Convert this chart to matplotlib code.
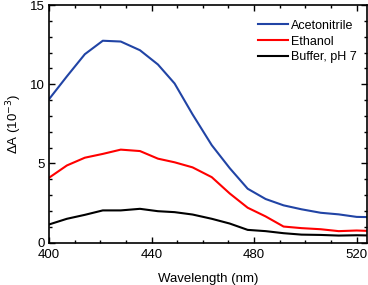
import matplotlib
matplotlib.use("Agg")
import matplotlib.pyplot as plt
from matplotlib.ticker import MultipleLocator

plt.rcParams['font.family'] = ['Liberation Sans', 'DejaVu Sans']

wavelength = [400, 407, 414, 421, 428, 435.5, 442.5, 449, 456, 463.5, 470.5,
              477.5, 484.5, 491.5, 498.5, 506, 513, 520, 527]
acetonitrile = [9.05, 10.5, 11.9, 12.75, 12.7, 12.15, 11.25, 10.05, 8.1, 6.15, 4.7,
                3.4, 2.75, 2.35, 2.1, 1.88, 1.78, 1.62, 1.6]
ethanol = [4.09, 4.87, 5.36, 5.6, 5.87, 5.78, 5.3, 5.07, 4.75, 4.13, 3.1,
           2.2, 1.65, 1.01, 0.91, 0.84, 0.72, 0.76, 0.72]
buffer = [1.14, 1.5, 1.75, 2.03, 2.03, 2.13, 1.98, 1.92, 1.77, 1.5, 1.2,
          0.8, 0.72, 0.59, 0.5, 0.48, 0.44, 0.46, 0.44]

labels = ['Acetonitrile', 'Ethanol', 'Buffer, pH 7']
colors = ['#2144a5', '#ff0000', '#000000']

fig = plt.figure(figsize=(3.68, 2.85), dpi=100)
ax = fig.add_axes([0.133, 0.149, 0.864, 0.833])

for ys, lab, c in zip([acetonitrile, ethanol, buffer], labels, colors):
    ax.plot(wavelength, ys, color=c, lw=1.5, label=lab)

ax.set_xlim(400, 524)
ax.set_ylim(0, 15)
ax.set_xticks([400, 440, 480, 520])
ax.set_yticks([0, 5, 10, 15])
ax.xaxis.set_minor_locator(MultipleLocator(10))
ax.yaxis.set_minor_locator(MultipleLocator(1))
ax.tick_params(which='both', direction='in', top=True, right=True, labelsize=9.5, width=1)
ax.tick_params(which='major', length=4.5)
ax.tick_params(axis='x', which='major', pad=5)
ax.tick_params(axis='y', which='major', pad=3)
ax.tick_params(which='minor', length=2.5)
for s in ax.spines.values():
    s.set_linewidth(1.2)

ax.set_xlabel('Wavelength (nm)', fontsize=9.5, labelpad=8)
ax.set_ylabel('ΔA (10$^{-3}$)', fontsize=9.5, labelpad=4)

ax.legend(loc='upper right', bbox_to_anchor=(0.995, 0.975), frameon=False, fontsize=9,
          handlelength=2.4, handletextpad=0.2, labelspacing=0.3, borderaxespad=0.3)

fig.savefig('out.png', dpi=100)
